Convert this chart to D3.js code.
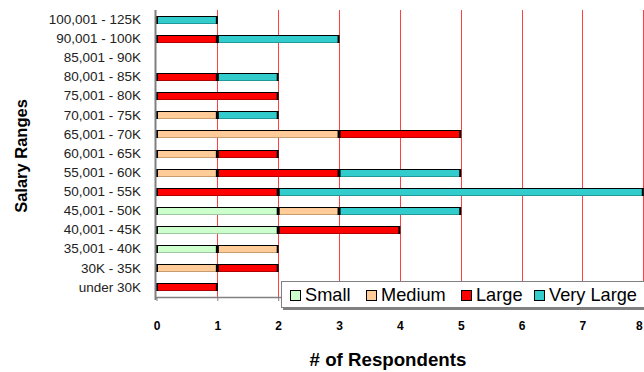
<!DOCTYPE html>
<html><head><meta charset="utf-8">
<script src="https://cdn.jsdelivr.net/npm/d3@7"></script>
<style>body{margin:0;background:#fff}svg{display:block}</style>
</head><body>
<svg id="c" width="644" height="372"></svg>
<script>
const categories = ["100,001 - 125K","90,001 - 100K","85,001 - 90K","80,001 - 85K","75,001 - 80K","70,001 - 75K","65,001 - 70K","60,001 - 65K","55,001 - 60K","50,001 - 55K","45,001 - 50K","40,001 - 45K","35,001 - 40K","30K - 35K","under 30K"];
const seriesNames = ["Small","Medium","Large","Very Large"];
const small     = [0,0,0,0,0,0,0,0,0,0,2,2,1,0,0];
const medium    = [0,0,0,0,0,1,3,1,1,0,1,0,1,1,0];
const large     = [0,1,0,1,2,0,2,1,2,2,0,2,0,1,1];
const veryLarge = [1,2,0,1,0,1,0,0,2,6,2,0,0,0,0];
const xTicks = [0,1,2,3,4,5,6,7,8];
const colors = ["#ccffcc","#ffcc99","#ff0000","#33cccc"];
const bottomEdge = ["#9fc79f","#c99c6e","#b00000","#229999"];

const svg = d3.select("#c");
const x = d3.scaleLinear().domain([0,8]).range([156.5,643.3]);
const y = d3.scaleBand().domain(categories).range([10,297]).paddingInner(0).paddingOuter(0);

const rows = categories.map((c,i)=>({cat:c,"Small":small[i],"Medium":medium[i],"Large":large[i],"Very Large":veryLarge[i]}));
const stacked = d3.stack().keys(seriesNames)(rows);

// gridlines
svg.append("g").selectAll("line").data(xTicks.filter(d=>d>0)).join("line")
  .attr("x1",d=>Math.round(x(d))+0.5).attr("x2",d=>Math.round(x(d))+0.5)
  .attr("y1",10).attr("y2",297).attr("stroke","#ff0000").attr("stroke-width",1).attr("stroke-opacity",0.75);

// bars
const barH = 8;
stacked.forEach((s,si)=>{
  const g = svg.append("g");
  s.forEach((d,i)=>{
    if (d[1]-d[0] <= 0) return;
    const x0 = x(d[0]), x1 = x(d[1]);
    const cy = y(categories[i]) + y.bandwidth()/2;
    const top = Math.round(cy - barH/2);
    g.append("rect").attr("x",x0).attr("y",top).attr("width",x1-x0).attr("height",barH).attr("fill",colors[si]);
    g.append("line").attr("x1",x0).attr("x2",x1).attr("y1",top+0.5).attr("y2",top+0.5).attr("stroke","#000");
    g.append("line").attr("x1",x0).attr("x2",x1).attr("y1",top+barH-0.5).attr("y2",top+barH-0.5).attr("stroke",bottomEdge[si]);
    g.append("line").attr("x1",x0+0.5).attr("x2",x0+0.5).attr("y1",top).attr("y2",top+barH).attr("stroke","#000").attr("stroke-width",2);
    g.append("line").attr("x1",x1-0.5).attr("x2",x1-0.5).attr("y1",top).attr("y2",top+barH).attr("stroke","#000").attr("stroke-width",2);
  });
});

// axes
svg.append("line").attr("x1",155.5).attr("x2",155.5).attr("y1",10).attr("y2",300).attr("stroke","#808080").attr("stroke-width",2);
svg.append("line").attr("x1",155).attr("x2",644).attr("y1",297.5).attr("y2",297.5).attr("stroke","#808080").attr("stroke-width",1.5);
const xAxis = d3.axisBottom(x).tickValues(xTicks).tickSize(4).tickSizeOuter(0).tickPadding(20);
const xa = svg.append("g").attr("transform","translate(0,297)").call(xAxis);
xa.select(".domain").remove();
xa.selectAll(".tick line").attr("stroke","#808080");
xa.selectAll(".tick text").attr("font-family","Liberation Sans, Arial, sans-serif").attr("font-weight","bold").attr("font-size","12px").attr("fill","#000")
  .filter(d=>d===8).attr("text-anchor","end").attr("dx","-1");

const yAxis = d3.axisLeft(y).tickSize(0).tickPadding(15);
const ya = svg.append("g").attr("transform","translate(156,0)").call(yAxis);
ya.select(".domain").remove();
ya.selectAll(".tick text").attr("font-family","Liberation Sans, Arial, sans-serif").attr("font-size","13.5px").attr("fill","#222");

// axis titles
svg.append("text").attr("x",388).attr("y",366).attr("text-anchor","middle")
  .attr("font-family","Liberation Sans, Arial, sans-serif").attr("font-weight","bold").attr("font-size","18.7px").text("# of Respondents");
svg.append("text").attr("transform","translate(27,156) rotate(-90)").attr("text-anchor","middle")
  .attr("font-family","Liberation Sans, Arial, sans-serif").attr("font-weight","bold").attr("font-size","16.5px").text("Salary Ranges");

// legend
const lg = svg.append("g");
lg.append("rect").attr("x",283).attr("y",283).attr("width",363).attr("height",27).attr("fill","#808080");
lg.append("rect").attr("x",281.5).attr("y",281.5).attr("width",364).attr("height",26).attr("fill","#fff").attr("stroke","#808080");
const swX = [290,366,461,534];
const txX = [305,381,476,549];
seriesNames.forEach((n,i)=>{
  lg.append("rect").attr("x",swX[i]+0.5).attr("y",290.5).attr("width",10).attr("height",10).attr("fill",colors[i]).attr("stroke","#000");
  lg.append("text").attr("x",txX[i]).attr("y",301).attr("font-family","Liberation Sans, Arial, sans-serif").attr("font-size","18.2px").attr("fill","#000").text(n);
});
</script>
</body></html>
